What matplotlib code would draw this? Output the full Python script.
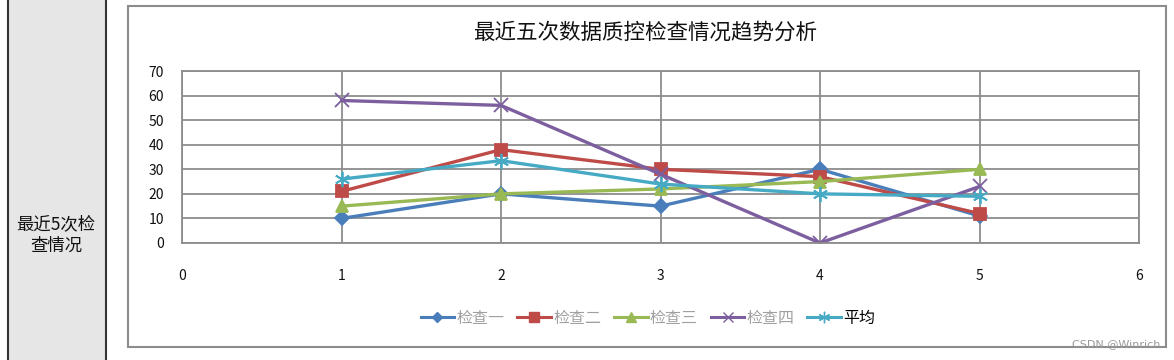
import matplotlib
matplotlib.use("Agg")
import matplotlib.pyplot as plt
from matplotlib.patches import Rectangle
from matplotlib.lines import Line2D

plt.rcParams['font.family'] = ['Noto Sans CJK SC', 'DejaVu Sans']

# ---- data ----
x_vals = [1, 2, 3, 4, 5]
series_names = ["检查一", "检查二", "检查三", "检查四", "平均"]
s_blue = [10, 20, 15, 30, 11]
s_red = [21, 38, 30, 27, 12]
s_green = [15, 20, 22, 25, 30]
s_purple = [58, 56, 28, 0, 23]
s_cyan = [26, 33.5, 24, 20, 19]
y_ticks = [0, 10, 20, 30, 40, 50, 60, 70]
x_ticks = [0, 1, 2, 3, 4, 5, 6]
title = "最近五次数据质控检查情况趋势分析"
row_label = "最近5次检\n查情况"

W, H = 1174, 360
fig = plt.figure(figsize=(W / 100, H / 100), dpi=100)
fig.patch.set_facecolor("white")

def fx(px):
    return px / W

def fy(py):
    return 1 - py / H

# left gray cell
fig.patches.append(Rectangle((fx(8), 0), fx(106) - fx(8), 1, transform=fig.transFigure,
                             facecolor="#e6e6e6", edgecolor="none", zorder=0))
for xp in (8, 106):
    fig.add_artist(plt.Line2D([fx(xp), fx(xp)], [0, 1], transform=fig.transFigure,
                              color="#333333", lw=1.5))
fig.text(fx(56), fy(235), row_label, ha="center", va="center", fontsize=12.5,
         linespacing=1.25, color="#111111")

# chart box
fig.patches.append(Rectangle((fx(128), fy(347)), fx(1166) - fx(128), fy(6) - fy(347),
                             transform=fig.transFigure, facecolor="white",
                             edgecolor="#8c8c8c", lw=1.5, zorder=1))

ax = fig.add_axes([fx(182), fy(243), fx(1139) - fx(182), fy(71) - fy(243)])
ax.set_facecolor("none")
ax.set_zorder(2)

styles = [
    (s_blue, "#4a7ebb", "D", 7),
    (s_red, "#be4b48", "s", 9),
    (s_green, "#98b954", "^", 9),
    (s_purple, "#7d5fa0", "x", 10),
    (s_cyan, "#46aac5", (6, 2, 0), 11),
]
handles = []
for (vals, col, mk, ms), name in zip(styles, series_names):
    ax.plot(x_vals, vals, color=col, lw=2.4, marker=mk, ms=ms, mew=1.3,
            mec=col, mfc=col, label=name, solid_capstyle="round")
    handles.append(Line2D([], [], color=col, lw=2.2, marker=mk, ms=ms * 0.75,
                          mew=1.0, mec=col, mfc=col))

ax.set_xlim(0, 6)
ax.set_ylim(0, 70)
ax.set_xticks(x_ticks)
ax.set_yticks(y_ticks)
ax.grid(True, color="#8c8c8c", lw=1.3)
ax.set_axisbelow(True)
for sp in ax.spines.values():
    sp.set_color("#8c8c8c")
    sp.set_linewidth(1.3)
ax.tick_params(axis="both", length=0, labelsize=10, colors="#111111")
ax.tick_params(axis="x", pad=19)
ax.tick_params(axis="y", pad=13)

fig.text(fx(645), fy(33), title, ha="center", va="center", fontsize=15.5, color="#111111")

leg = fig.legend(handles=handles, labels=series_names, loc="center",
                 bbox_to_anchor=(fx(648), fy(318)), ncol=5, frameon=False,
                 fontsize=11.5, handlelength=2.1, columnspacing=0.8, handletextpad=0.15)
for t in leg.get_texts()[:4]:
    t.set_color("#a0a0a0")

fig.text(fx(1160), fy(344), "CSDN @Winrich", ha="right", va="center", fontsize=8,
         color="#999999", family=["DejaVu Sans"])

fig.savefig("out.png", dpi=100)
